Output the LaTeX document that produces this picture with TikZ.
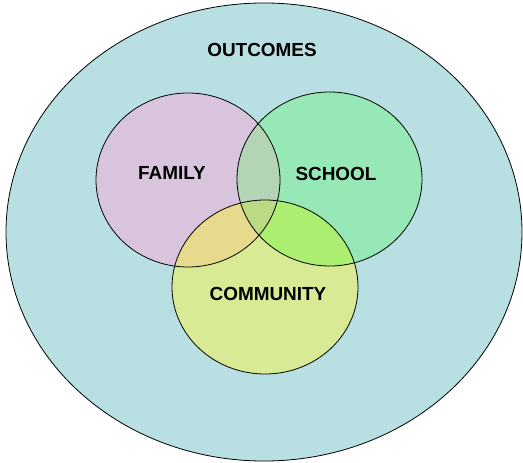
\documentclass[tikz,border=0pt]{standalone}
\usepackage{fontspec}
\setmainfont{Liberation Sans}
\usepackage{xcolor}
\usepackage{tikz}
\usetikzlibrary{shapes,positioning,calc}

\definecolor{outcomebg}{RGB}{184,224,226}
\definecolor{familyfill}{RGB}{216,196,220}
\definecolor{schoolfill}{RGB}{150,232,182}
\definecolor{communityfill}{RGB}{216,234,148}
\definecolor{famschool}{RGB}{180,212,182}
\definecolor{famcomm}{RGB}{232,218,140}
\definecolor{schoolcomm}{RGB}{172,238,112}
\definecolor{allthree}{RGB}{186,218,132}

\tikzset{
    label/.style={font=\fontsize{19}{21}\selectfont\bfseries, inner sep=0pt},
    rim/.style={draw=black, line width=0.8pt}
}

\def\familyset{(188,180) ellipse (92bp and 87bp)}
\def\schoolset{(329.5,179) ellipse (92.5bp and 87bp)}
\def\communityset{(265,287) ellipse (93bp and 87bp)}

\begin{document}
\begin{tikzpicture}[x=1bp, y=-1bp]
    \useasboundingbox (0,0) rectangle (523,463);
    \fill[white] (0,0) rectangle (523,463);

    % outer set
    \fill[outcomebg] (264,232) ellipse (258bp and 229bp);
    \draw[rim] (264,232) ellipse (258bp and 229bp);

    % the three sets
    \fill[familyfill] \familyset;
    \fill[schoolfill] \schoolset;
    \fill[communityfill] \communityset;

    % overlaps
    \begin{scope}
        \clip \familyset;
        \fill[famschool] \schoolset;
        \fill[famcomm] \communityset;
        \clip \schoolset;
        \fill[allthree] \communityset;
    \end{scope}
    \begin{scope}
        \clip \schoolset;
        \fill[schoolcomm] \communityset;
        \clip \familyset;
        \fill[allthree] \communityset;
    \end{scope}

    \draw[rim] \familyset;
    \draw[rim] \schoolset;
    \draw[rim] \communityset;

    \node[label] (outcomes) at (262,50) {OUTCOMES};
    \node[label] (family) at (172,173) {FAMILY};
    \node[label] (school) at (336,174) {SCHOOL};
    \node[label] (community) at (268,294) {COMMUNITY};
\end{tikzpicture}
\end{document}
